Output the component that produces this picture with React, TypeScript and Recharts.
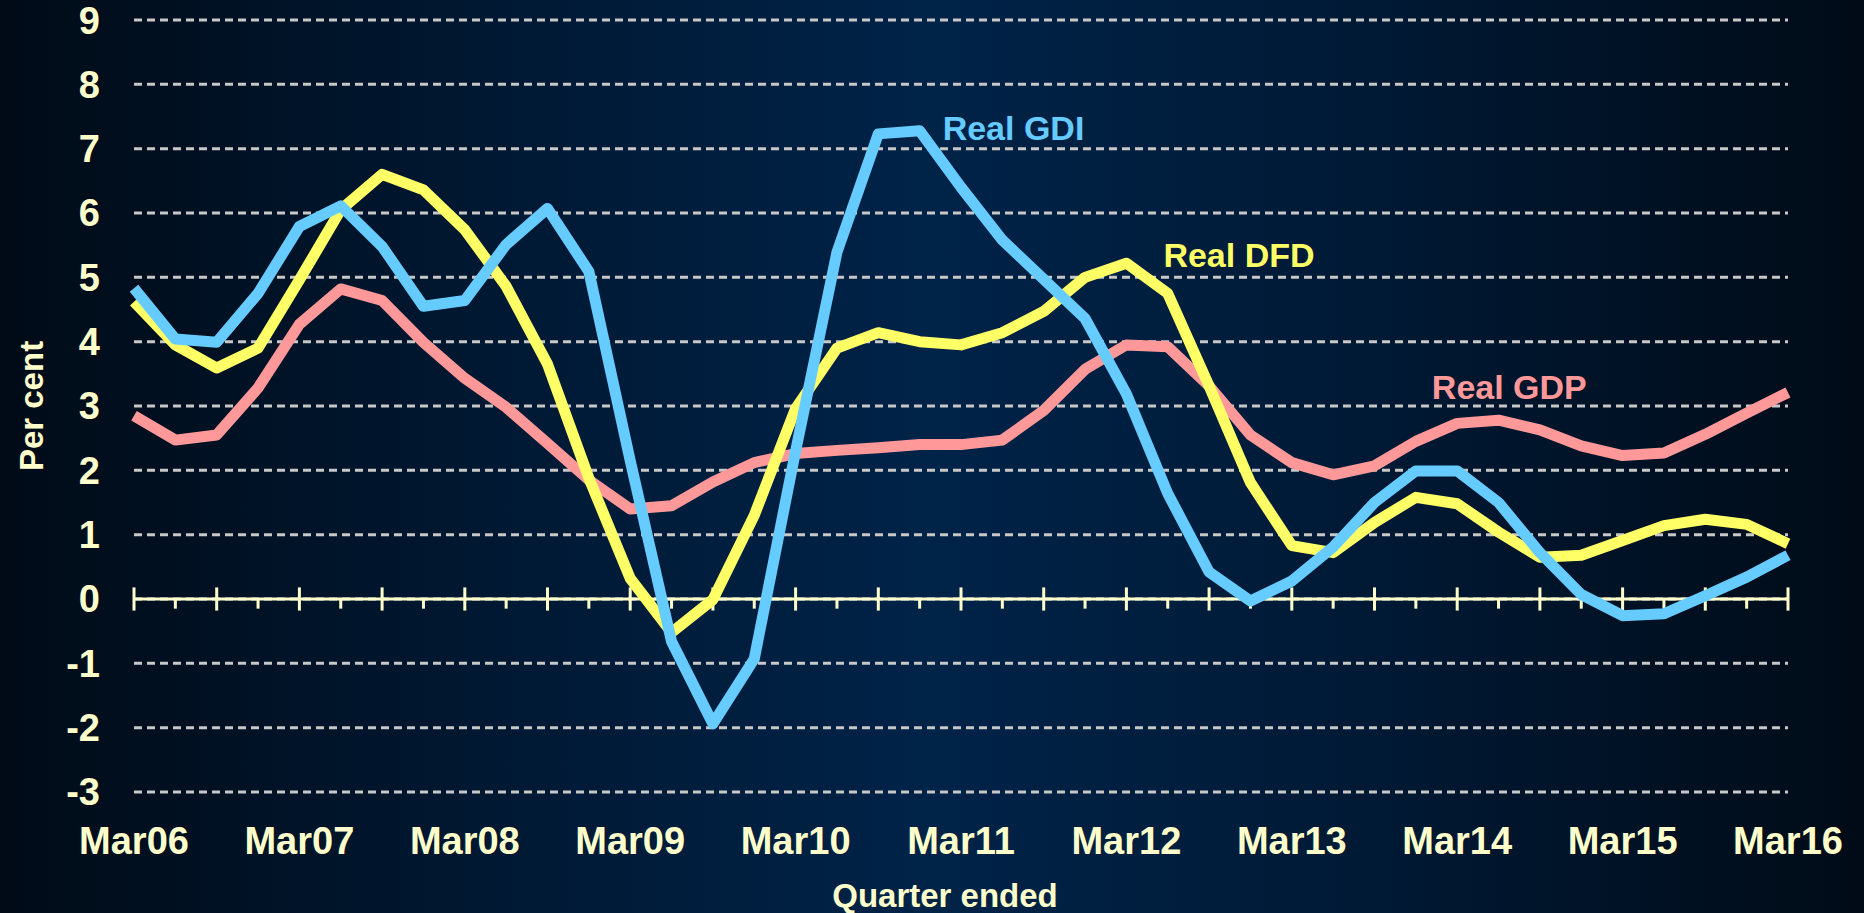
import React from "react";
import {
  LineChart, Line, XAxis, YAxis, CartesianGrid, ReferenceLine, ReferenceDot,
} from "recharts";

// quarterly, Mar06 .. Mar16
const quarters = [
  "Mar06", "Jun06", "Sep06", "Dec06",
  "Mar07", "Jun07", "Sep07", "Dec07",
  "Mar08", "Jun08", "Sep08", "Dec08",
  "Mar09", "Jun09", "Sep09", "Dec09",
  "Mar10", "Jun10", "Sep10", "Dec10",
  "Mar11", "Jun11", "Sep11", "Dec11",
  "Mar12", "Jun12", "Sep12", "Dec12",
  "Mar13", "Jun13", "Sep13", "Dec13",
  "Mar14", "Jun14", "Sep14", "Dec14",
  "Mar15", "Jun15", "Sep15", "Dec15",
  "Mar16",
];

// per cent, year-ended growth
const realGdp = [
  2.85, 2.47, 2.55, 3.28, 4.27, 4.82, 4.64, 3.99, 3.43, 2.98,
  2.42, 1.85, 1.40, 1.45, 1.82, 2.12, 2.26, 2.31, 2.35, 2.40,
  2.40, 2.47, 2.93, 3.57, 3.95, 3.92, 3.31, 2.55, 2.12, 1.93,
  2.07, 2.45, 2.73, 2.78, 2.63, 2.38, 2.23, 2.27, 2.56, 2.89,
  3.21,
];
const realDfd = [
  4.62, 3.95, 3.59, 3.90, 4.96, 6.05, 6.60, 6.36, 5.74, 4.86,
  3.65, 1.88, 0.32, -0.52, -0.01, 1.30, 2.96, 3.90, 4.14, 4.00,
  3.95, 4.14, 4.47, 5.00, 5.22, 4.75, 3.31, 1.81, 0.83, 0.72,
  1.19, 1.58, 1.48, 1.04, 0.65, 0.68, 0.91, 1.14, 1.24, 1.16,
  0.86,
];
const realGdi = [
  4.83, 4.04, 3.99, 4.75, 5.79, 6.11, 5.48, 4.55, 4.64, 5.51,
  6.07, 5.09, 2.15, -0.66, -1.94, -0.93, 2.30, 5.39, 7.23, 7.28,
  6.40, 5.58, 4.97, 4.36, 3.19, 1.64, 0.42, -0.03, 0.28, 0.81,
  1.50, 1.99, 1.99, 1.50, 0.72, 0.07, -0.26, -0.23, 0.05, 0.34,
  0.68,
];

const yTicks = [-3, -2, -1, 0, 1, 2, 3, 4, 5, 6, 7, 8, 9];

const data = quarters.map((q, i) => ({
  q,
  gdp: realGdp[i],
  dfd: realDfd[i],
  gdi: realGdi[i],
}));

const CREAM = "#FFFFCC";
const GDP = "#FF9999";
const DFD = "#FFFF66";
const GDI = "#66CCFF";
const FONT = "'Liberation Sans', Arial, sans-serif";

const tickStyle = { fill: CREAM, fontSize: 38, fontWeight: 700, fontFamily: FONT };
const noteStyle = { fontSize: 34, fontWeight: 700, fontFamily: FONT };

const PerCent = ({ viewBox }: any) => {
  const x = viewBox.x + 31;
  const y = viewBox.y + viewBox.height / 2;
  return (
    <text
      x={x} y={y} transform={`rotate(-90, ${x}, ${y})`}
      textAnchor="middle" dominantBaseline="central"
      fill={CREAM} fontSize={33} fontWeight={700} fontFamily={FONT}
    >
      Per cent
    </text>
  );
};

const QuarterEnded = ({ viewBox }: any) => (
  <text
    x={viewBox.x + viewBox.width / 2 - 16} y={viewBox.y + viewBox.height - 6}
    textAnchor="middle"
    fill={CREAM} fontSize={33} fontWeight={700} fontFamily={FONT}
  >
    Quarter ended
  </text>
);

export default function App() {
  return (
    <div
      style={{
        position: "absolute", left: 0, top: 0, width: 1864, height: 913,
        background: "linear-gradient(90deg, #000b17 0%, #001a36 30%, #002348 50%, #001a36 72%, #000b17 100%)",
      }}
    >
      <LineChart width={1864} height={913} data={data} margin={{ top: 20, right: 76, bottom: 0, left: 0 }}>
        <CartesianGrid vertical={false} stroke="#c8c8c8" strokeWidth={3} strokeDasharray="8 5" />
        <XAxis
          dataKey="q" interval={3} height={121}
          axisLine={false} tickLine={false} tickSize={0} tickMargin={35}
          tick={tickStyle}
          label={<QuarterEnded />}
        />
        <YAxis
          domain={[-3, 9]} ticks={yTicks} width={134} interval={0}
          axisLine={false} tickLine={false} tickSize={0} tickMargin={34}
          tick={tickStyle}
          label={<PerCent />}
        />

        {/* x axis sits on zero, with tick marks every half year and minor ones between */}
        <ReferenceLine y={0} stroke={CREAM} strokeWidth={3} />
        {quarters.map((q, i) =>
          i % 2 === 0 ? (
            <ReferenceLine key={q} segment={[{ x: q, y: -0.18 }, { x: q, y: 0.18 }]} stroke={CREAM} strokeWidth={3} />
          ) : (
            <ReferenceLine key={q} segment={[{ x: q, y: 0 }, { x: q, y: -0.15 }]} stroke={CREAM} strokeWidth={3} />
          )
        )}

        <Line dataKey="gdp" stroke={GDP} strokeWidth={11} dot={false} activeDot={false}
          strokeLinejoin="round" isAnimationActive={false} />
        <Line dataKey="dfd" stroke={DFD} strokeWidth={11} dot={false} activeDot={false}
          strokeLinejoin="round" isAnimationActive={false} />
        <Line dataKey="gdi" stroke={GDI} strokeWidth={11} dot={false} activeDot={false}
          strokeLinejoin="round" isAnimationActive={false} />

        <ReferenceDot x="Dec10" y={7.32} r={0} stroke="none" fill="none"
          label={{ value: "Real GDI", position: "right", offset: 23, fill: GDI, ...noteStyle }} />
        <ReferenceDot x="Mar12" y={5.35} r={0} stroke="none" fill="none"
          label={{ value: "Real DFD", position: "right", offset: 37, fill: DFD, ...noteStyle }} />
        <ReferenceDot x="Dec13" y={3.3} r={0} stroke="none" fill="none"
          label={{ value: "Real GDP", position: "right", offset: 16, fill: GDP, ...noteStyle }} />
      </LineChart>
    </div>
  );
}
